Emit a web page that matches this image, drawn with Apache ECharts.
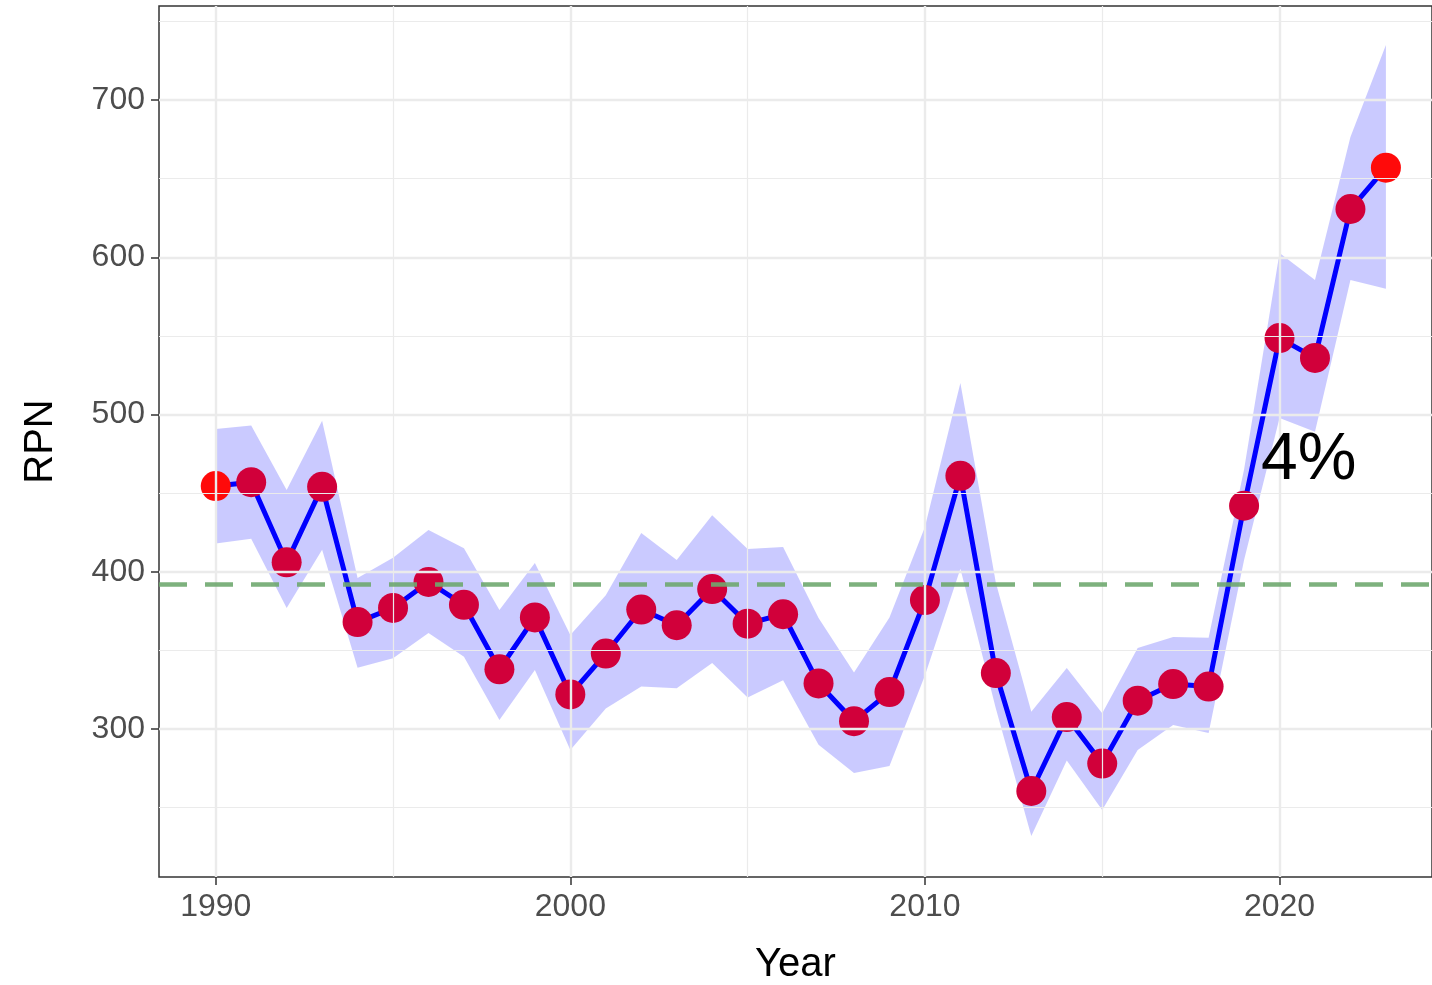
<!DOCTYPE html>
<html lang="en">
<head>
<meta charset="UTF-8">
<title>RPN</title>
<script src="https://cdn.jsdelivr.net/npm/echarts@6/dist/echarts.min.js"></script>
<style>html,body{margin:0;background:#fff}#chart{width:1432px;height:985px}</style>
</head>
<body>
<div id="chart"></div>
<script>
var years = [];
for (var y = 1990; y <= 2023; y++) years.push(y);
var rpn = [454.5,457,406,454,368,377,393.5,379,338,371,322,348,376,366,389,367,373,329,305,323.5,382,461,335.6,260.6,307.6,278,318,328.6,327,442,548.6,536,630.7,657];
var upper = [490.8,493,452,496,396,409,426.5,415,375.7,405.6,359.8,385,424.6,407.5,436,414.5,415.7,370.6,336,371,428.5,520,393,311,338.8,310,351.5,358.5,358,465,602.7,585.5,676.5,735];
var lower = [418,421,377,414,339,345,361,346,305.7,337.5,286.6,313,327,326,342,320,331,290,272,276.5,334,402,313,232,280,248.5,286.6,302.5,297.5,407.5,497.8,489,585.5,580];
var refLine = 392.2;
var xLabels = [1990, 2000, 2010, 2020];
var yLabels = [300, 400, 500, 600, 700];
var xMinor = [1995, 2005, 2015];
var yMinor = [250, 350, 450, 550, 650, 750];

var chart = echarts.init(document.getElementById('chart'));
function pair(xs, ys) { return xs.map(function (x, i) { return [x, ys[i]]; }); }
function gridLines(axis, vals, w) {
    return vals.map(function (v) { var o = {}; o[axis] = v; o.lineStyle = {color: '#ebebeb', width: w, type: 'solid'}; return o; });
}
var gridMarks = [].concat(gridLines('xAxis', xMinor, 1.2), gridLines('yAxis', yMinor, 1.2),
    gridLines('xAxis', xLabels, 2.4), gridLines('yAxis', yLabels, 2.4));

// ribbon polygon: upper going right, lower coming back
var bandData = years.map(function (x, i) { return [x, lower[i], upper[i]]; });

chart.setOption({
    animation: false,
    grid: {left: 159, right: 0, top: 6, bottom: 108, outerBoundsMode: 'none', show: true, borderColor: '#333', borderWidth: 1.5},
    xAxis: {
        type: 'value', min: 1988.4, max: 2024.3,
        name: 'Year', nameLocation: 'middle', nameGap: 68,
        nameTextStyle: {fontSize: 40, color: '#000', fontFamily: 'Liberation Sans'},
        splitLine: {show: false}, axisLine: {show: false},
        axisTick: {show: true, customValues: xLabels, length: 8, lineStyle: {color: '#333', width: 1.5}},
        axisLabel: {customValues: xLabels, formatter: function (v) { return String(v); },
            fontSize: 32, color: '#4d4d4d', margin: 14, fontFamily: 'Liberation Sans'}
    },
    yAxis: {
        type: 'value', min: 205.9, max: 759.8,
        name: 'RPN', nameLocation: 'middle', nameGap: 98, nameRotate: 90,
        nameTextStyle: {fontSize: 40, color: '#000', fontFamily: 'Liberation Sans'},
        splitLine: {show: false}, axisLine: {show: false},
        axisTick: {show: true, customValues: yLabels, length: 8, lineStyle: {color: '#333', width: 1.5}},
        axisLabel: {customValues: yLabels, fontSize: 32, color: '#4d4d4d', margin: 14, fontFamily: 'Liberation Sans'}
    },
    series: [
        {type: 'custom', data: bandData, z: 2, silent: true,
         renderItem: function (params, api) {
            if (params.dataIndex !== 0) return;
            var top = [], bot = [];
            for (var i = 0; i < bandData.length; i++) {
                top.push(api.coord([bandData[i][0], bandData[i][2]]));
                bot.unshift(api.coord([bandData[i][0], bandData[i][1]]));
            }
            return {type: 'polygon', shape: {points: top.concat(bot)},
                style: {fill: 'rgba(60,60,255,0.27)'}};
         },
         markLine: {silent: true, symbol: 'none', label: {show: false}, data: gridMarks}},
        {type: 'line', data: pair(years, rpn), symbol: 'none', lineStyle: {color: '#0000ff', width: 5}, z: 3,
         markLine: {silent: true, symbol: 'none', label: {show: false},
            data: [{yAxis: refLine, lineStyle: {color: '#6fa86f', width: 4.5, type: [28, 18], opacity: 0.9}}]}},
        {type: 'scatter', data: pair(years, rpn).map(function (p, i) {
            var edge = i === 0 || i === rpn.length - 1;
            return {value: p, itemStyle: {color: edge ? '#ff0a0a' : '#d1003a', opacity: 1}};
         }), symbolSize: 30, z: 4}
    ],
    graphic: [{type: 'text', left: 1261, top: 428, z: 10,
        style: {text: '4%', fontSize: 66, fill: '#000', fontFamily: 'Liberation Sans'}}]
});
</script>
</body>
</html>
